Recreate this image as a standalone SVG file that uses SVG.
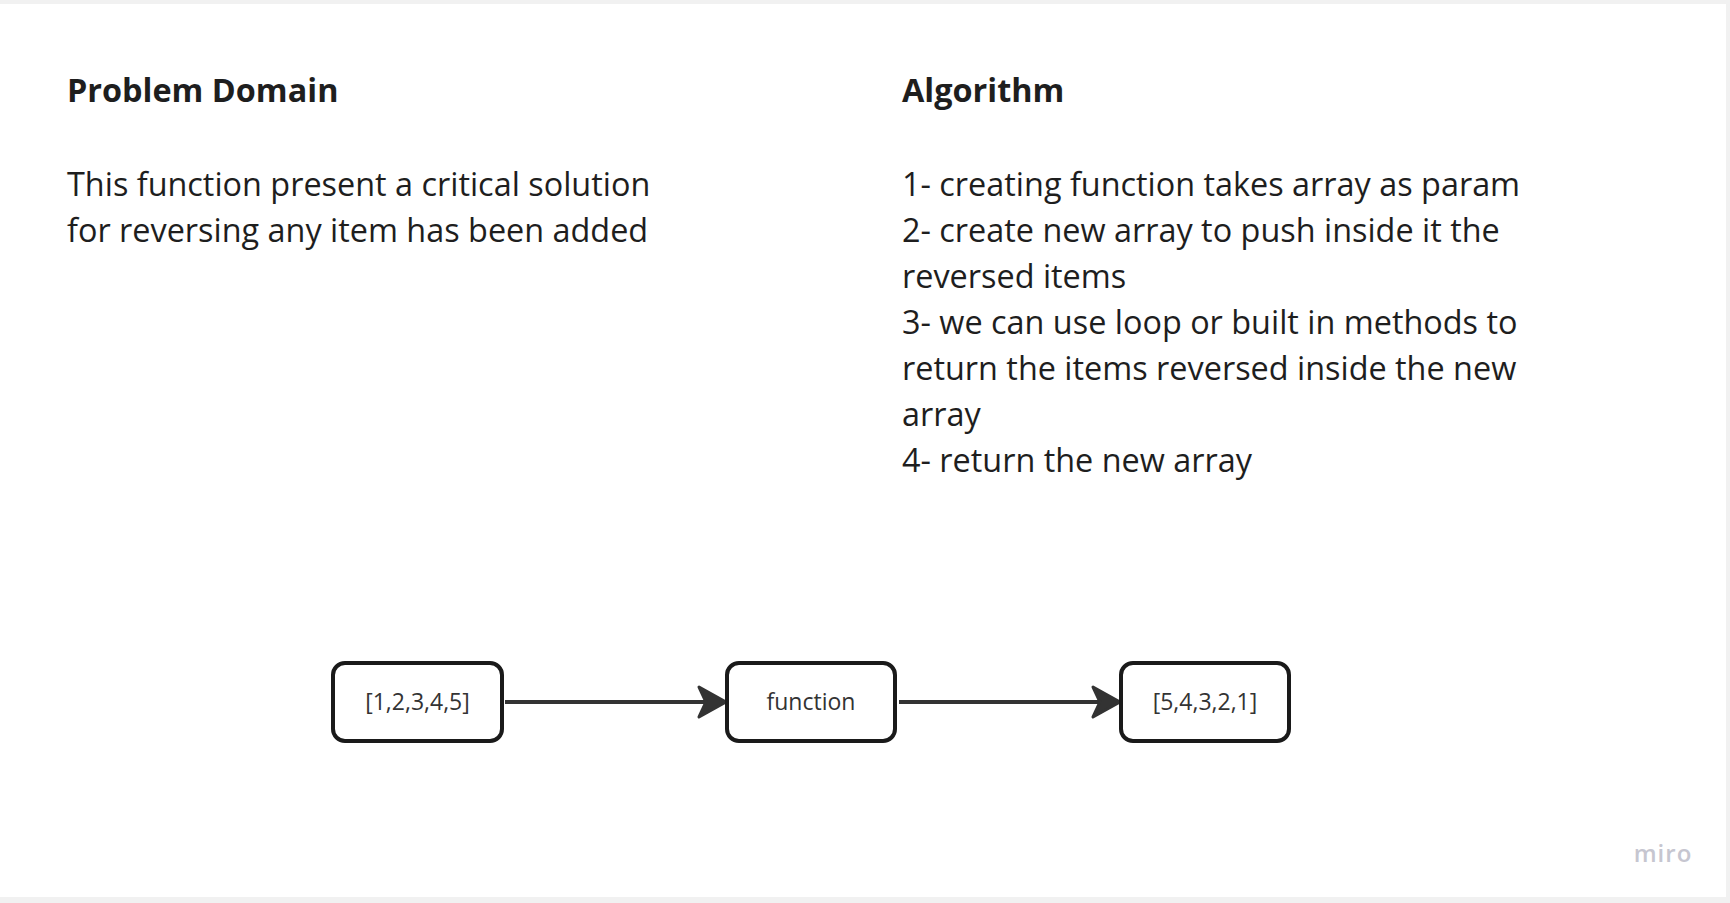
<svg xmlns="http://www.w3.org/2000/svg" width="1730" height="903" viewBox="0 0 1730 903">
<style>
.t{font-family:"Open Sans","Noto Sans",sans-serif;fill:#1e1e1e}
.h{font-size:32.4px;font-weight:700}
.b{font-size:32.4px}
.box{fill:#fff;stroke:#1a1a1a;stroke-width:4}
.lbl{font-family:"Open Sans","Noto Sans",sans-serif;font-size:23px;fill:#333;text-anchor:middle}
.edge{stroke:#333;stroke-width:4;fill:none}
</style>
<defs>
<marker id="arr" markerUnits="userSpaceOnUse" markerWidth="32" markerHeight="36" refX="29" refY="18" orient="auto">
<path d="M2,3 L29,18 L2,33 L9,18 Z" fill="#333" stroke="#333" stroke-width="3" stroke-linejoin="round"/>
</marker>
</defs>
<rect x="0" y="0" width="1730" height="903" fill="#f1f1f1"/>
<rect x="0" y="4" width="1726" height="893" fill="#ffffff"/>
<g id="problem-domain">
<text class="t h" x="67" y="102">Problem Domain</text>
<text class="t b" x="67" y="195.5">This function present a critical solution</text>
<text class="t b" x="67" y="241.5">for reversing any item has been added</text>
</g>
<g id="algorithm">
<text class="t h" x="902" y="102">Algorithm</text>
<text class="t b" x="902" y="195.5">1- creating function takes array as param</text>
<text class="t b" x="902" y="241.5">2- create new array to push inside it the</text>
<text class="t b" x="902" y="287.5">reversed items</text>
<text class="t b" x="902" y="333.5">3- we can use loop or built in methods to</text>
<text class="t b" x="902" y="379.5">return the items reversed inside the new</text>
<text class="t b" x="902" y="425.5">array</text>
<text class="t b" x="902" y="472">4- return the new array</text>
</g>
<g id="connectors">
<line class="edge" x1="505" y1="702" x2="726" y2="702" marker-end="url(#arr)"/>
<line class="edge" x1="899" y1="702" x2="1120" y2="702" marker-end="url(#arr)"/>
</g>
<g id="node-input">
<rect class="box" x="333" y="663" width="169" height="78" rx="12"/>
<text class="lbl" x="417.5" y="710">[1,2,3,4,5]</text>
</g>
<g id="node-function">
<rect class="box" x="727" y="663" width="168" height="78" rx="12"/>
<text class="lbl" x="811" y="710">function</text>
</g>
<g id="node-output">
<rect class="box" x="1121" y="663" width="168" height="78" rx="12"/>
<text class="lbl" x="1205" y="710">[5,4,3,2,1]</text>
</g>
<text x="1663" y="862" font-family="'Open Sans','Noto Sans',sans-serif" font-size="24" font-weight="600" letter-spacing="1" fill="#c6c6d0" text-anchor="middle">miro</text>
</svg>
